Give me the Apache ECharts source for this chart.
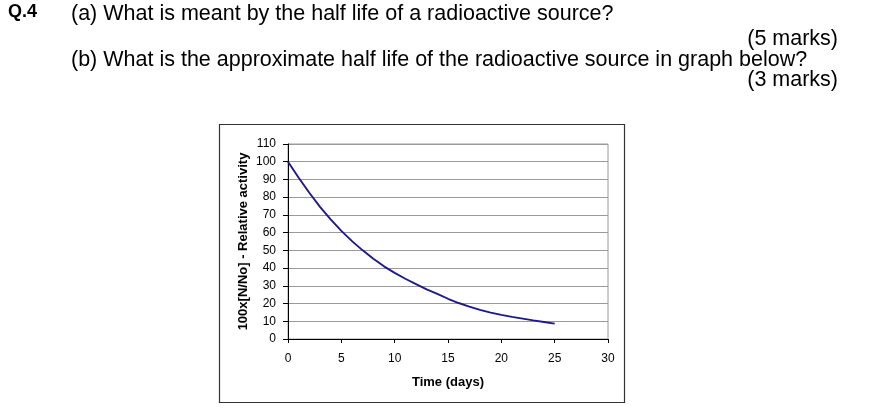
<!DOCTYPE html>
<html><head><meta charset="utf-8">
<script src="https://cdn.jsdelivr.net/npm/echarts@6/dist/echarts.min.js"></script>
<style>html,body{margin:0;padding:0;background:#fff}#c{width:889px;height:415px}</style>
</head><body><div id="c"></div>
<script>
// Data
const days = [0,1,2,3,4,5,6,7,8,9,10,11,12,13,14,15,16,17,18,19,20,21,22,23,24,25];
const activity = [100,91,82.5,74.5,67.5,61,55.2,50,45.3,41,37.3,34,31,28,25.5,22.7,20.3,18.3,16.4,14.9,13.6,12.5,11.5,10.5,9.6,8.7];
const xTicks = [0,5,10,15,20,25,30];
const yTicks = [0,10,20,30,40,50,60,70,80,90,100,110];
const questionLines = [
  'Q.4',
  '(a) What is meant by the half life of a radioactive source?',
  '(5 marks)',
  '(b) What is the approximate half life of the radioactive source in graph below?',
  '(3 marks)'
];

const chart = echarts.init(document.getElementById('c'), null, {renderer:'canvas'});
const F = '"Liberation Sans", Arial, Helvetica, sans-serif';
chart.setOption({
  animation:false,
  backgroundColor:'#fff',
  grid:{left:288,right:281,top:144,bottom:76,show:true,borderColor:'#9a9a9a',borderWidth:1,backgroundColor:'transparent'},
  xAxis:{type:'value',min:xTicks[0],max:xTicks[xTicks.length-1],interval:5,
    name:'Time (days)',nameLocation:'middle',nameGap:37,
    nameTextStyle:{fontFamily:F,fontSize:13,fontWeight:'bold',color:'#000'},
    axisLine:{show:true,lineStyle:{color:'#000',width:1}},
    axisTick:{show:true,length:4,lineStyle:{color:'#000'}},
    axisLabel:{fontFamily:F,fontSize:12,color:'#000',margin:14},
    splitLine:{show:false}},
  yAxis:{type:'value',min:yTicks[0],max:yTicks[yTicks.length-1],interval:10,
    name:'100x[N/No] - Relative activity',nameLocation:'middle',nameGap:38,
    nameTextStyle:{fontFamily:F,fontSize:13,fontWeight:'bold',color:'#000'},
    axisLine:{show:true,lineStyle:{color:'#000',width:1}},
    axisTick:{show:true,length:5,lineStyle:{color:'#000'}},
    axisLabel:{fontFamily:F,fontSize:12,color:'#000',margin:12},
    splitLine:{show:true,lineStyle:{color:'#9a9a9a',width:1}}},
  series:[{type:'line',data:days.map((d,i)=>[d,activity[i]]),showSymbol:false,
    lineStyle:{color:'#1f1888',width:1.9},smooth:false}],
  graphic:[
    {type:'rect',shape:{x:219.5,y:124.5,width:405,height:278},style:{fill:'none',stroke:'#333',lineWidth:1.2},silent:true},
    {type:'text',x:8,y:3,style:{text:questionLines[0],font:'bold 18px '+F,fill:'#000',verticalAlign:'top'}},
    {type:'text',x:71,y:3,style:{text:questionLines[1],font:'21.5px '+F,fill:'#000',verticalAlign:'top'}},
    {type:'text',x:838,y:28,style:{text:questionLines[2],font:'21.5px '+F,fill:'#000',align:'right',verticalAlign:'top'}},
    {type:'text',x:71,y:49,style:{text:questionLines[3],font:'21.5px '+F,fill:'#000',verticalAlign:'top'}},
    {type:'text',x:838,y:69,style:{text:questionLines[4],font:'21.5px '+F,fill:'#000',align:'right',verticalAlign:'top'}}
  ]
});
</script></body></html>
